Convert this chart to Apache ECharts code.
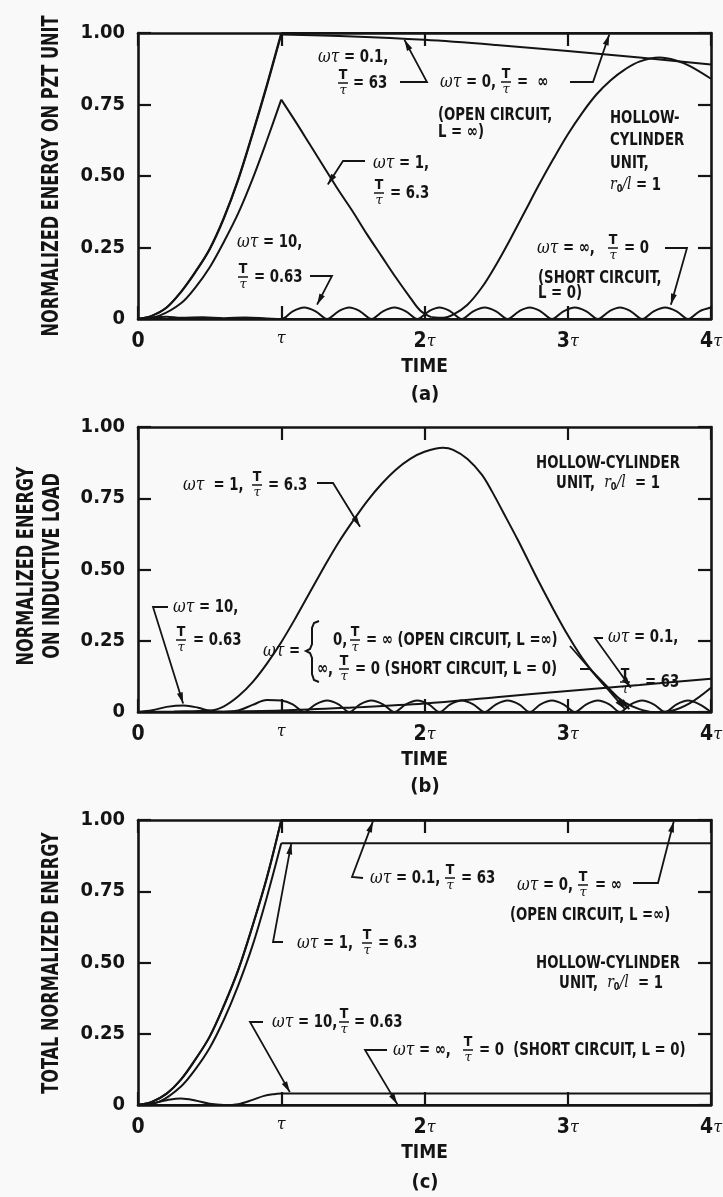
<!DOCTYPE html>
<html><head><meta charset="utf-8">
<script src="https://cdn.jsdelivr.net/npm/echarts@6/dist/echarts.min.js"></script>
<style>html,body{margin:0;padding:0;background:#f9f9f9}#c{width:723px;height:1197px}</style>
</head><body><div id="c"></div><script>
// ---------- tick labels / titles ----------
const xTickLabels = ['0', 'τ', '2τ', '3τ', '4τ'];
const yTickLabels = ['0', '0.25', '0.50', '0.75', '1.00'];
const panelLetters = ['(a)', '(b)', '(c)'];
const yTitles = [['NORMALIZED ENERGY ON PZT UNIT'], ['NORMALIZED ENERGY', 'ON INDUCTIVE LOAD'], ['TOTAL NORMALIZED ENERGY']];
const xTitle = 'TIME';

// ---------- (a) energy on PZT unit : [time/τ, energy] ----------
const a_open_rise = [[0,0],[0.1,0.012],[0.2,0.04],[0.3,0.095],[0.4,0.165],[0.5,0.245],[0.6,0.355],[0.7,0.49],[0.8,0.65],[0.9,0.82],[1.0,1.0]];
const a_open_hold = [[1.0,1.0],[4.0,1.0]];
const a_w01_rise = [[0,0],[0.1,0.012],[0.2,0.04],[0.3,0.094],[0.4,0.163],[0.5,0.243],[0.6,0.352],[0.7,0.486],[0.8,0.646],[0.9,0.815],[1.0,0.995]];
const a_w01_fall = [[1.0,0.995],[1.5,0.988],[2.0,0.976],[2.5,0.958],[3.0,0.937],[3.5,0.914],[4.0,0.89]];
const a_w1_rise = [[0,0],[0.15,0.012],[0.3,0.055],[0.4,0.11],[0.5,0.18],[0.6,0.27],[0.7,0.37],[0.8,0.49],[0.9,0.625],[1.0,0.767]];
const a_w1_fall = [[1.0,0.767],[1.1,0.69],[1.2,0.61],[1.3,0.53],[1.4,0.45],[1.5,0.375],[1.6,0.295],[1.7,0.22],[1.8,0.145],[1.9,0.075],[1.97,0.03],[2.05,0.006]];
const a_w1_wave = [[2.05,0.006],[2.13,0.004],[2.2,0.015],[2.3,0.05],[2.4,0.11],[2.5,0.19],[2.6,0.28],[2.7,0.375],[2.8,0.47],[2.9,0.56],[3.0,0.645],[3.1,0.72],[3.2,0.785],[3.3,0.835],[3.4,0.873],[3.5,0.9],[3.64,0.914],[3.75,0.905],[3.85,0.885],[4.0,0.84]];
const a_w10 = [[0,0],[0.1,0.005],[0.2,0.008],[0.3,0.004],[0.45,0.006],[0.6,0.003],[0.75,0.005],[0.9,0.002],[1.0,0],
  [1.08,0.027],[1.16,0.04],[1.24,0.027],[1.32,0],[1.4,0.027],[1.475,0.04],[1.55,0.027],[1.63,0],
  [1.71,0.027],[1.79,0.04],[1.87,0.027],[1.95,0],[2.03,0.027],[2.105,0.04],[2.18,0.027],[2.26,0],
  [2.34,0.027],[2.42,0.04],[2.5,0.027],[2.58,0],[2.66,0.027],[2.735,0.04],[2.81,0.027],[2.89,0],
  [2.97,0.027],[3.05,0.04],[3.13,0.027],[3.21,0],[3.29,0.027],[3.365,0.04],[3.44,0.027],[3.52,0],
  [3.6,0.027],[3.68,0.04],[3.76,0.027],[3.84,0],[3.92,0.027],[4.0,0.04]];
const a_short = [[0,0],[4,0]];

// ---------- (b) energy on inductive load ----------
const b_open = [[0,0],[4,0]];
const b_short = [[0,0],[4,0]];
const b_w01 = [[0,0],[0.5,0.001],[1.0,0.005],[1.5,0.016],[2.0,0.03],[2.5,0.052],[3.0,0.074],[3.5,0.095],[4.0,0.117]];
const b_w1 = [[0,0],[0.25,0.002],[0.5,0.005],[0.6,0.02],[0.7,0.055],[0.8,0.105],[0.9,0.17],[1.0,0.245],[1.1,0.33],[1.2,0.42],[1.3,0.51],[1.4,0.595],[1.5,0.67],[1.6,0.74],[1.7,0.8],[1.8,0.85],[1.9,0.888],[2.0,0.913],[2.13,0.927],[2.2,0.92],[2.3,0.888],[2.4,0.833],[2.47,0.775],[2.55,0.7],[2.65,0.605],[2.73,0.525],[2.8,0.455],[2.9,0.36],[3.0,0.27],[3.1,0.19],[3.2,0.125],[3.3,0.072],[3.4,0.033],[3.5,0.01],[3.6,0.0],[3.72,0.004],[3.85,0.03],[4.0,0.085]];
const b_w10 = [[0,0],[0.1,0.006],[0.2,0.018],[0.32,0.023],[0.42,0.015],[0.5,0.004],[0.6,0],[0.7,0.005],[0.8,0.025],[0.9,0.042],[1.0,0.04],
  [1.08,0.027],[1.16,0],[1.24,0.027],[1.32,0.04],[1.4,0.027],[1.475,0],[1.55,0.027],[1.63,0.04],[1.71,0.027],[1.79,0],
  [1.87,0.027],[1.95,0.04],[2.03,0.027],[2.105,0],[2.18,0.027],[2.26,0.04],[2.34,0.027],[2.42,0],[2.5,0.027],[2.58,0.04],
  [2.66,0.027],[2.735,0],[2.81,0.027],[2.89,0.04],[2.97,0.027],[3.05,0],[3.13,0.027],[3.21,0.04],[3.29,0.027],[3.365,0],
  [3.44,0.027],[3.52,0.04],[3.6,0.027],[3.68,0],[3.76,0.027],[3.84,0.04],[3.92,0.027],[4.0,0]];

// ---------- (c) total energy ----------
const c_open_rise = [[0,0],[0.1,0.012],[0.2,0.04],[0.3,0.09],[0.4,0.16],[0.5,0.24],[0.6,0.35],[0.7,0.475],[0.8,0.63],[0.9,0.8],[1.0,1.0]];
const c_open_hold = [[1.0,1.0],[4.0,1.0]];
const c_w01_rise = [[0,0],[0.1,0.012],[0.2,0.04],[0.3,0.089],[0.4,0.159],[0.5,0.239],[0.6,0.348],[0.7,0.473],[0.8,0.628],[0.9,0.797],[1.0,0.998]];
const c_w01_hold = [[1.0,0.998],[4.0,0.998]];
const c_w1_rise = [[0,0],[0.15,0.012],[0.3,0.065],[0.4,0.125],[0.5,0.2],[0.6,0.3],[0.7,0.42],[0.8,0.56],[0.9,0.73],[1.0,0.918]];
const c_w1_hold = [[1.0,0.918],[4.0,0.918]];
const c_w10_rise = [[0,0],[0.1,0.006],[0.2,0.017],[0.3,0.023],[0.4,0.016],[0.5,0.004],[0.6,0],[0.7,0.003],[0.8,0.018],[0.88,0.032],[0.95,0.038],[1.0,0.04]];
const c_w10_hold = [[1.0,0.04],[4.0,0.04]];
const c_short = [[0,0],[4,0]];

// ---------- styling ----------
const INK = '#141414';
const FB = "'Liberation Sans Narrow','DejaVu Sans Condensed','Liberation Sans',sans-serif";
const FG = "'DejaVu Serif','Liberation Serif',serif";
const grids = [
  {left:138, top:33, width:573, height:286},
  {left:138, top:427, width:573, height:285},
  {left:138, top:820, width:573, height:285}
];

function xLab(v) {
  const s = xTickLabels[Math.round(v)] || '';
  const m = s.match(/^(\d*)(τ?)$/);
  let out = '';
  if (m[1]) out += '{d|' + m[1] + '}';
  if (m[2]) out += '{t|τ}';
  return out;
}

const xAxes = [], yAxes = [];
grids.forEach((gr, g) => {
  const line = {show:true, onZero:false, lineStyle:{color:INK, width:2.6}};
  const tick = {show:true, inside:true, length:13, lineStyle:{color:INK, width:2.2}};
  xAxes.push({gridIndex:g, type:'value', min:0, max:4, interval:1, position:'bottom',
    axisLine:line, axisTick:tick, splitLine:{show:false},
    axisLabel:{margin:12, formatter:xLab, rich:{
      d:{fontFamily:FB, fontWeight:'bold', fontSize:21, color:INK},
      t:{fontFamily:FG, fontStyle:'italic', fontSize:16, color:INK}}},
    name:xTitle, nameLocation:'middle', nameGap:39, nameMoveOverlap:false,
    nameTextStyle:{fontFamily:FB, fontWeight:'bold', fontSize:19, color:INK}});
  xAxes.push({gridIndex:g, type:'value', min:0, max:4, interval:1, position:'top',
    axisLine:line, axisTick:tick, splitLine:{show:false}, axisLabel:{show:false}});
  yAxes.push({gridIndex:g, type:'value', min:0, max:1, interval:0.25, position:'left',
    axisLine:line, axisTick:tick, splitLine:{show:false},
    axisLabel:{margin:13, formatter:(v)=>yTickLabels[Math.round(v*4)],
      fontFamily:FB, fontWeight:'bold', fontSize:20, color:INK}});
  yAxes.push({gridIndex:g, type:'value', min:0, max:1, interval:0.25, position:'right',
    axisLine:line, axisTick:tick, splitLine:{show:false}, axisLabel:{show:false}});
});

function ln(data, g, smooth) {
  return {type:'line', xAxisIndex:2*g, yAxisIndex:2*g, data:data, symbol:'none', showSymbol:false,
    smooth: smooth === undefined ? 0.35 : smooth, lineStyle:{color:INK, width:2}, silent:true, z:3};
}
const series = [
  ln(a_open_rise,0), ln(a_open_hold,0,false), ln(a_w01_rise,0), ln(a_w01_fall,0), ln(a_w1_rise,0),
  ln(a_w1_fall,0), ln(a_w1_wave,0), ln(a_w10,0), ln(a_short,0,false),
  ln(b_open,1,false), ln(b_short,1,false), ln(b_w01,1), ln(b_w1,1), ln(b_w10,1),
  ln(c_open_rise,2), ln(c_open_hold,2,false), ln(c_w01_rise,2), ln(c_w01_hold,2,false), ln(c_w1_rise,2),
  ln(c_w1_hold,2,false), ln(c_w10_rise,2), ln(c_w10_hold,2,false), ln(c_short,2,false)
];

const chart = echarts.init(document.getElementById('c'), null, {renderer:'canvas'});
chart.setOption({
  backgroundColor:'#f9f9f9', animation:false,
  grid: grids.map(g => Object.assign({containLabel:false, outerBoundsMode:'none'}, g)),
  xAxis:xAxes, yAxis:yAxes, series:series
});

// ---------- annotations ----------
const SX = 0.82;
const RICH = {
  b:{fontFamily:FB, fontWeight:'bold', fontSize:18, fill:INK, color:INK},
  w:{fontFamily:FG, fontStyle:'italic', fontSize:19, fill:INK, color:INK},
  ri:{fontFamily:FG, fontStyle:'italic', fontSize:17, fill:INK, color:INK},
  sub:{fontFamily:FB, fontWeight:'bold', fontSize:11, fill:INK, color:INK, padding:[9,0,0,0]}
};
const els = [];
function T(x, y, text, align) {
  els.push({type:'text', x:x, y:y, z:100, scaleX:SX, style:{text:text, rich:RICH, fill:INK, align:align||'left', verticalAlign:'middle', font:'bold 18px '+FB}});
}
function frac(cx, cy) {
  els.push({type:'text', x:cx, y:cy-1, z:100, style:{text:'T', font:'bold 14px '+FB, fill:INK, align:'center', verticalAlign:'bottom'}});
  els.push({type:'line', z:100, shape:{x1:cx-5, y1:cy, x2:cx+5, y2:cy}, style:{stroke:INK, lineWidth:1.5}});
  els.push({type:'text', x:cx, y:cy+1, z:100, style:{text:'τ', font:'italic 13px '+FG, fill:INK, align:'center', verticalAlign:'top'}});
}
function arrow(g, pts, tipData) {
  const tip = chart.convertToPixel({gridIndex:g}, tipData);
  const all = pts.concat([tip]);
  const n = all.length;
  const x2 = all[n-1][0], y2 = all[n-1][1], x1 = all[n-2][0], y1 = all[n-2][1];
  const ang = Math.atan2(y2-y1, x2-x1), L = 11, W = 3;
  const bx = x2 - L*Math.cos(ang), by = y2 - L*Math.sin(ang);
  const px = -Math.sin(ang)*W, py = Math.cos(ang)*W;
  els.push({type:'polyline', z:100, shape:{points:all}, style:{stroke:INK, lineWidth:1.8, fill:null}});
  els.push({type:'polygon', z:100, shape:{points:[[x2,y2],[bx+px,by+py],[bx-px,by-py]]}, style:{fill:INK}});
}

// y-axis titles (rotated, condensed)
[[52,176,0,0],[27,566,1,0],[53,566,1,1],[52,963,2,0]].forEach(([x,y,g,k]) => {
  els.push({type:'text', x:x, y:y, rotation:Math.PI/2, scaleX:0.78, z:100,
    style:{text:yTitles[g][k], font:'bold 23px '+FB, fill:INK, align:'center', verticalAlign:'middle'}});
});

// panel (a)
T(318,57,'{w|ωτ}{b| = 0.1,}'); frac(343,83); T(353,83,'{b|= 63}');
arrow(0, [[400,82],[427,82]], [1.86,0.976]);
T(440,82,'{w|ωτ}{b| = 0,}'); frac(506,82); T(517,82,'{b|=  ∞}');
arrow(0, [[570,82],[593,82]], [3.29,0.995]);
T(438,115,'{b|(OPEN CIRCUIT,}'); T(438,132,'{b|L = ∞)}');
T(610,118,'{b|HOLLOW-}'); T(610,140,'{b|CYLINDER}'); T(610,163,'{b|UNIT,}');
T(610,185,'{ri|r}{sub|0}{ri|/l}{b| = 1}');
T(373,163,'{w|ωτ}{b| = 1,}'); frac(379,193); T(390,193,'{b|= 6.3}');
arrow(0, [[365,161],[343,161]], [1.325,0.47]);
T(237,242,'{w|ωτ}{b| = 10,}'); frac(243,277); T(254,277,'{b|= 0.63}');
arrow(0, [[310,276],[332,276]], [1.25,0.05]);
T(537,248,'{w|ωτ}{b| = ∞,}'); frac(613,248); T(624,248,'{b|= 0}');
arrow(0, [[665,248],[687,248]], [3.72,0.05]);
T(538,278,'{b|(SHORT CIRCUIT,}'); T(538,293,'{b|L = 0)}');

// panel (b)
T(183,485,'{w|ωτ}{b|  = 1,}'); frac(257,485); T(268,485,'{b|= 6.3}');
arrow(1, [[317,483],[333,483]], [1.55,0.65]);
T(173,607,'{w|ωτ}{b| = 10,}'); frac(181,640); T(193,640,'{b|= 0.63}');
arrow(1, [[168,607],[153,607]], [0.315,0.03]);
T(263,651,'{w|ωτ}{b| =}');
els.push({type:'polyline', z:100, shape:{points:[[319,621],[314,623],[312,628],[312,644],[310,649],[306,651],[310,653],[312,658],[312,674],[314,680],[319,682]]}, style:{stroke:INK, lineWidth:2, fill:null}});
T(333,640,'{b|0,}'); frac(355,640); T(366,640,'{b|= ∞ (OPEN CIRCUIT, L =∞)}');
arrow(1, [[570,646]], [3.40,0.01]);
T(317,669,'{b|∞,}'); frac(344,669); T(355,669,'{b|= 0 (SHORT CIRCUIT, L = 0)}');
arrow(1, [[580,669],[590,669]], [3.43,0.01]);
T(608,637,'{w|ωτ}{b| = 0.1,}'); frac(625,682); T(645,682,'{b|= 63}');
arrow(1, [[603,638],[595,638]], [3.44,0.085]);
T(608,463,'{b|HOLLOW-CYLINDER}','center');
T(608,483,'{b|UNIT,  }{ri|r}{sub|0}{ri|/l}{b|  = 1}','center');

// panel (c)
T(370,878,'{w|ωτ}{b| = 0.1,}'); frac(450,878); T(461,878,'{b|= 63}');
arrow(2, [[363,878],[352,877]], [1.64,0.995]);
T(517,885,'{w|ωτ}{b| = 0,}'); frac(583,885); T(595,885,'{b|= ∞}');
arrow(2, [[633,883],[658,883]], [3.74,0.995]);
T(510,915,'{b|(OPEN CIRCUIT, L =∞)}');
T(297,943,'{w|ωτ}{b| = 1,}'); frac(367,943); T(378,943,'{b|= 6.3}');
arrow(2, [[283,942],[273,942]], [1.07,0.918]);
T(272,1022,'{w|ωτ}{b| = 10,}'); frac(344,1022); T(354,1022,'{b|= 0.63}');
arrow(2, [[263,1022],[250,1022]], [1.06,0.045]);
T(393,1050,'{w|ωτ}{b| = ∞,}'); frac(468,1050); T(479,1050,'{b|= 0  (SHORT CIRCUIT, L = 0)}');
arrow(2, [[387,1050],[365,1050]], [1.81,0.003]);
T(608,963,'{b|HOLLOW-CYLINDER}','center');
T(611,983,'{b|UNIT,  }{ri|r}{sub|0}{ri|/l}{b|  = 1}','center');

// panel letters
[395, 787, 1183].forEach((y, i) => {
  els.push({type:'text', x:425, y:y, z:100, style:{text:panelLetters[i], font:'bold 20px '+FB, fill:INK, align:'center', verticalAlign:'middle'}});
});

chart.setOption({graphic:{elements:els}});
</script></body></html>
